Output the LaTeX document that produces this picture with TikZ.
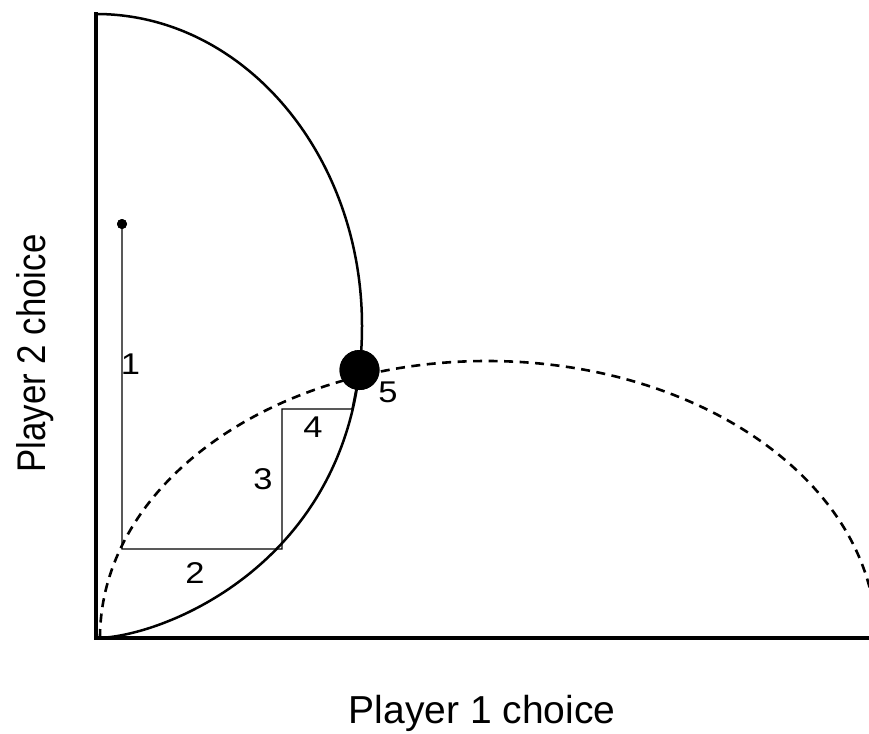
\documentclass[tikz,border=0pt]{standalone}
\usepackage{fontspec}
\setmainfont{Liberation Sans}
\begin{document}
\begin{tikzpicture}[x=1pt,y=-1pt,
  axisline/.style={line width=3.4pt, line join=miter},
  curve/.style={line width=2.5pt},
  dashcurve/.style={line width=2.6pt, dash pattern=on 9pt off 6.5pt},
  thinline/.style={line width=1.4pt},
  dotnode/.style={circle, fill=black, inner sep=0pt},
  digit/.style={inner sep=0pt, font=\fontsize{30}{36}\selectfont},
  biglabel/.style={inner sep=0pt, font=\fontsize{39}{47}\selectfont}]
\useasboundingbox (0,0) rectangle (869,733);
\fill[white] (0,0) rectangle (869,733);
% axes
\coordinate (ytop) at (96,12.5);
\coordinate (orig) at (96,638);
\coordinate (xend) at (869,638);
% path points
\coordinate (p1) at (122,549);
\coordinate (p2) at (282,549);
\coordinate (p3) at (282,409);
\coordinate (p4) at (352,409);
\node[dotnode, minimum size=10pt] (start) at (122,224) {};
\node[dotnode, minimum size=40pt] (eq) at (359.5,370) {};
% thin adjustment path
\draw[thinline] (start.center) -- (p1) -- (p2) -- (p3) -- (p4) -- (eq.center);
% solid reaction curve
\draw[curve] (96,14) .. controls (243,14) and (362,154) .. (362,326)
  .. controls (362,560) and (163,638) .. (orig);
% dashed reaction curve
\begin{scope}
\clip (0,0) rectangle (869,733);
\draw[dashcurve] (100,638) .. controls (100,485) and (272,361) .. (487,361)
  .. controls (702,361) and (876,485) .. (876,638);
\end{scope}
\draw[axisline] (ytop) -- (orig) -- (xend);
% redraw dots on top
\node[dotnode, minimum size=10pt] at (start.center) {};
\node[dotnode, minimum size=40pt] at (eq.center) {};
% labels
\node[digit] (l1) at (130.5,364.5) {\scalebox{1.15}[1]{1}};
\node[digit] (l2) at (195,573) {\scalebox{1.15}[1]{2}};
\node[digit] (l3) at (263,479) {\scalebox{1.15}[1]{3}};
\node[digit] (l4) at (313,427) {\scalebox{1.15}[1]{4}};
\node[digit] (l5) at (388,392) {\scalebox{1.15}[1]{5}};
\node[biglabel, anchor=base] (xlab) at (482,723) {Player 1 choice};
\node[inner sep=0pt, font=\fontsize{40}{48}\selectfont, anchor=base, rotate=90] (ylab) at (45,353.5) {\scalebox{0.87}[1]{Player 2 choice}};
\end{tikzpicture}
\end{document}
